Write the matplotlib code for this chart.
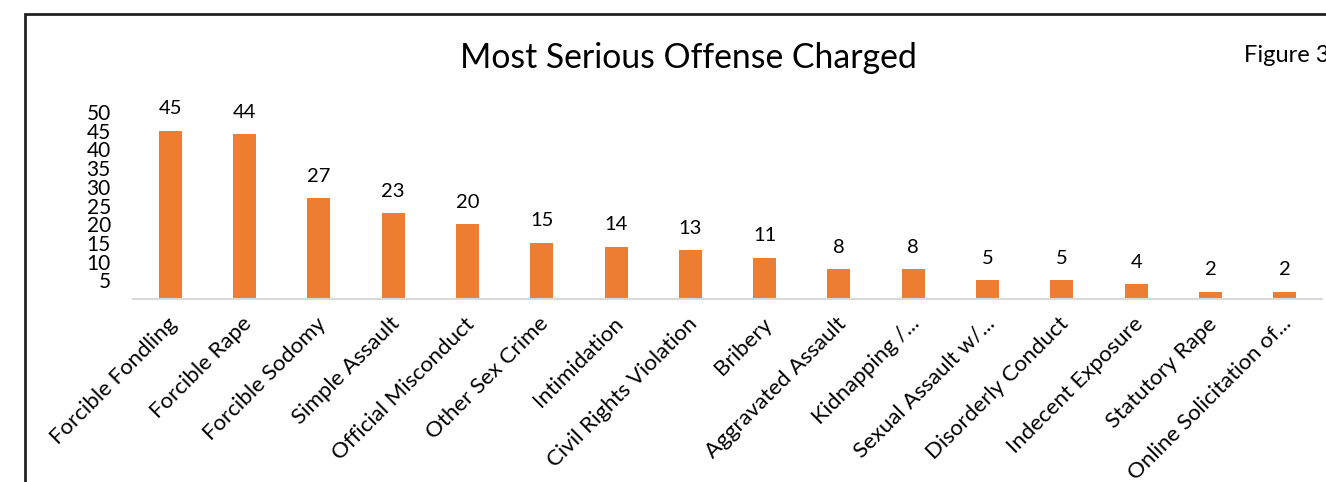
import matplotlib
matplotlib.use('Agg')
import matplotlib.pyplot as plt
from matplotlib.patches import Rectangle

plt.rcParams['font.family'] = ['Lato', 'DejaVu Sans']

offenses = ['Forcible Fondling', 'Forcible Rape', 'Forcible Sodomy', 'Simple Assault',
            'Official Misconduct', 'Other Sex Crime', 'Intimidation', 'Civil Rights Violation',
            'Bribery', 'Aggravated Assault', 'Kidnapping /...', 'Sexual Assault w/...',
            'Disorderly Conduct', 'Indecent Exposure', 'Statutory Rape', 'Online Solicitation of...']
counts = [45, 44, 27, 23, 20, 15, 14, 13, 11, 8, 8, 5, 5, 4, 2, 2]
yticks = [5, 10, 15, 20, 25, 30, 35, 40, 45, 50]

W, H = 1326, 482
fig = plt.figure(figsize=(W / 100, H / 100), dpi=100)
ax = fig.add_axes([133 / W, 1 - 299 / H, (1322 - 133) / W, 187 / H])

x = range(len(counts))
ax.bar(x, counts, width=0.31, color='#ED7D31', zorder=2)
for i, v in enumerate(counts):
    ax.text(i, v + 3.6, str(v), ha='center', va='bottom', fontsize=14.5, color='#000000')

ax.set_xlim(-0.5, len(counts) - 0.5)
ax.set_ylim(0, 50)
ax.set_yticks(yticks)
ax.set_yticklabels([str(t) for t in yticks], fontsize=15)
ax.tick_params(axis='y', length=0, pad=16)
ax.tick_params(axis='x', length=0)
ax.set_xticks(list(x))
ax.set_xticklabels([])
# rotated category labels, right end just under each bar
for i, lab in enumerate(offenses):
    ax.text(i + 0.05, -5.8, lab, rotation=45, rotation_mode='anchor', ha='right', va='center',
            fontsize=16, color='#000000')

for s in ['top', 'right', 'left']:
    ax.spines[s].set_visible(False)
ax.spines['bottom'].set_color('#D9D9D9')
ax.spines['bottom'].set_linewidth(1.5)

fig.text(688 / W, 1 - 58 / H, 'Most Serious Offense Charged', ha='center', va='center', fontsize=24.3)
fig.text(1244 / W, 1 - 55 / H, 'Figure 3', ha='left', va='center', fontsize=17)

# outer frame, cut by the right and bottom edges like the reference
fig.patches.append(Rectangle((25 / W, -0.05), 1.2, 1 - 14 / H + 0.05, transform=fig.transFigure,
                             fill=False, edgecolor='#222222', linewidth=2))

fig.savefig('out.png', dpi=100)
